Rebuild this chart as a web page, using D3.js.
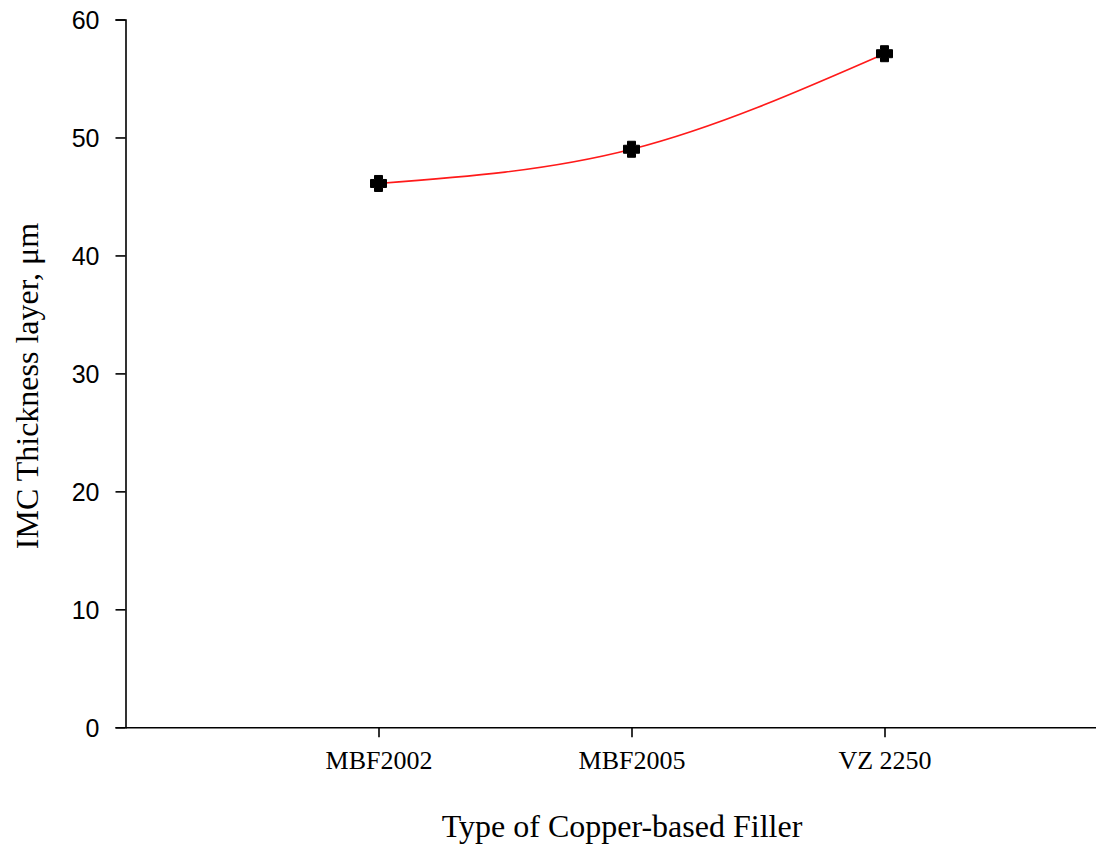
<!DOCTYPE html>
<html>
<head>
<meta charset="utf-8">
<script src="https://cdn.jsdelivr.net/npm/d3@7"></script>
<style>
  html, body { margin: 0; padding: 0; background: #fff; }
  svg { display: block; overflow: hidden; }
</style>
</head>
<body>
<div id="chart"></div>
<script>
// data
const fillers = ["MBF2002", "MBF2005", "VZ 2250"];
const thickness = [46.1, 49.0, 57.1];
const yTicks = [0, 10, 20, 30, 40, 50, 60];

const width = 1096, height = 846;
const plot = { left: 125.5, top: 19.5, bottom: 727.3, step: 253 };

const svg = d3.select("#chart").append("svg")
    .attr("width", width)
    .attr("height", height);

// scales: categories sit at index 1..3 of a 0..4 range (right end runs off the page)
const x = d3.scaleLinear()
    .domain([0, fillers.length + 1])
    .range([plot.left, plot.left + plot.step * (fillers.length + 1)]);

const y = d3.scaleLinear()
    .domain([0, 60])
    .range([plot.bottom, plot.top]);

// axes
const xAxis = svg.append("g")
    .attr("transform", `translate(0,${plot.bottom})`)
    .call(d3.axisBottom(x)
      .tickValues(d3.range(1, fillers.length + 1))
      .tickFormat(i => fillers[i - 1])
      .tickSize(10)
      .tickSizeOuter(0)
      .tickPadding(13));

xAxis.selectAll("text")
    .style("font-family", "'Liberation Serif', 'Times New Roman', serif")
    .style("font-size", "26px")
    .attr("fill", "#000");

const yAxis = svg.append("g")
    .attr("transform", `translate(${plot.left},0)`)
    .call(d3.axisLeft(y)
      .tickValues(yTicks)
      .tickSize(10)
      .tickPadding(16));

yAxis.selectAll("text")
    .style("font-family", "'Liberation Sans', Arial, sans-serif")
    .style("font-size", "25px")
    .attr("dy", "0.36em")
    .attr("fill", "#000");

svg.selectAll(".domain, .tick line")
    .attr("stroke", "#000")
    .attr("stroke-width", 1.6);

// axis titles
svg.append("text")
    .attr("x", 622)
    .attr("y", 837)
    .attr("text-anchor", "middle")
    .style("font-family", "'Liberation Serif', 'Times New Roman', serif")
    .style("font-size", "32px")
    .attr("fill", "#000")
    .text("Type of Copper-based Filler");

svg.append("text")
    .attr("transform", "translate(38,386) rotate(-90)")
    .attr("text-anchor", "middle")
    .style("font-family", "'Liberation Serif', 'Times New Roman', serif")
    .style("font-size", "32px")
    .attr("fill", "#000")
    .text("IMC Thickness layer, μm");

// smooth red curve through the points
const line = d3.line()
    .x((d, i) => x(i + 1))
    .y(d => y(d))
    .curve(d3.curveNatural);

svg.append("path")
    .datum(thickness)
    .attr("d", line)
    .attr("fill", "none")
    .attr("stroke", "#ff1a1a")
    .attr("stroke-width", 1.6);

// chunky cross marker: arms about half as thick as the symbol is wide
const thickCross = {
  draw(ctx, size) {
    const r = Math.sqrt(size) / 2;   // half width
    const a = r * 0.5;               // half arm thickness
    ctx.moveTo(-r, -a);
    ctx.lineTo(-a, -a);
    ctx.lineTo(-a, -r);
    ctx.lineTo(a, -r);
    ctx.lineTo(a, -a);
    ctx.lineTo(r, -a);
    ctx.lineTo(r, a);
    ctx.lineTo(a, a);
    ctx.lineTo(a, r);
    ctx.lineTo(-a, r);
    ctx.lineTo(-a, a);
    ctx.lineTo(-r, a);
    ctx.closePath();
  }
};

svg.append("g")
  .selectAll("path")
  .data(thickness)
  .join("path")
    .attr("transform", (d, i) => `translate(${x(i + 1)},${y(d)})`)
    .attr("d", d3.symbol(thickCross, 16 * 16))
    .attr("fill", "#000")
    .attr("stroke", "#000")
    .attr("stroke-width", 1)
    .attr("stroke-linejoin", "round");
</script>
</body>
</html>
